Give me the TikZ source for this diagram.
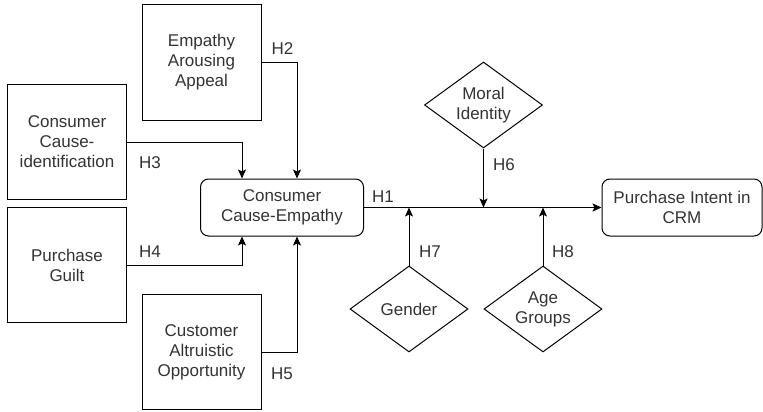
\documentclass[tikz,border=0pt]{standalone}
\usepackage{fontspec}
\setmainfont{Liberation Sans}
\usetikzlibrary{arrows.meta,shapes.geometric}
\definecolor{txt}{rgb}{0.2,0.2,0.2}
\begin{document}
\begin{tikzpicture}[x=1pt,y=-1pt,
  every node/.style={font=\fontsize{17}{20}\selectfont, text=txt},
  sqbox/.style={draw=black, line width=1pt, minimum width=119pt, minimum height=115pt, align=center, inner sep=0pt},
  rbox/.style={draw=black, line width=1pt, rounded corners=8pt, minimum width=163pt, minimum height=57pt, align=center, inner sep=0pt},
  dia/.style={draw=black, line width=1pt, diamond, aspect=1.37, minimum width=118pt, minimum height=86pt, align=center, inner sep=0pt},
  conn/.style={draw=black, line width=1pt, -{Stealth[length=9pt,width=8pt,inset=2pt]}},
  hlab/.style={inner sep=0pt}]
\useasboundingbox (0,0) rectangle (763,412);
% boxes
\node[sqbox] (eaa) at (201.5,62.5) {Empathy\\Arousing\\Appeal};
\node[sqbox] (cci) at (67,142) {Consumer\\Cause-\\identification};
\node[sqbox] (pg) at (67,265) {Purchase\\Guilt};
\node[sqbox] (cao) at (201.5,352) {Customer\\Altruistic\\Opportunity};
\node[rbox] (cce) at (282,207.5) {Consumer\\Cause-Empathy};
\node[rbox, minimum width=160pt] (pic) at (682,207.5) {Purchase Intent in\\CRM};
% diamonds
\node[dia] (mi) at (483.5,105) {Moral\\Identity};
\node[dia] (gen) at (409,309) {Gender};
\node[dia] (age) at (543,309) {Age\\Groups};
% connectors
\draw[conn] (cci.east) -| ([xshift=42pt]cce.north west);
\draw[conn] (eaa.east) -| ([xshift=97pt]cce.north west);
\draw[conn] (pg.east) -| ([xshift=42pt]cce.south west);
\draw[conn] (cao.east) -| ([xshift=97pt]cce.south west);
\draw[conn] (cce.east) -- (pic.west);
\coordinate (j6) at (mi.south |- cce.east);
\coordinate (j7) at (gen.north |- cce.east);
\coordinate (j8) at (age.north |- cce.east);
\draw[conn] (mi.south) -- (j6);
\draw[conn] (gen.north) -- (j7);
\draw[conn] (age.north) -- (j8);
% labels
\node[hlab] (h1) at (383,197) {H1};
\node[hlab] (h2) at (282.5,49) {H2};
\node[hlab] (h3) at (150,163) {H3};
\node[hlab] (h4) at (150,252) {H4};
\node[hlab] (h5) at (282,374) {H5};
\node[hlab] (h6) at (504,165) {H6};
\node[hlab] (h7) at (430,252) {H7};
\node[hlab] (h8) at (563,252) {H8};
\end{tikzpicture}
\end{document}
